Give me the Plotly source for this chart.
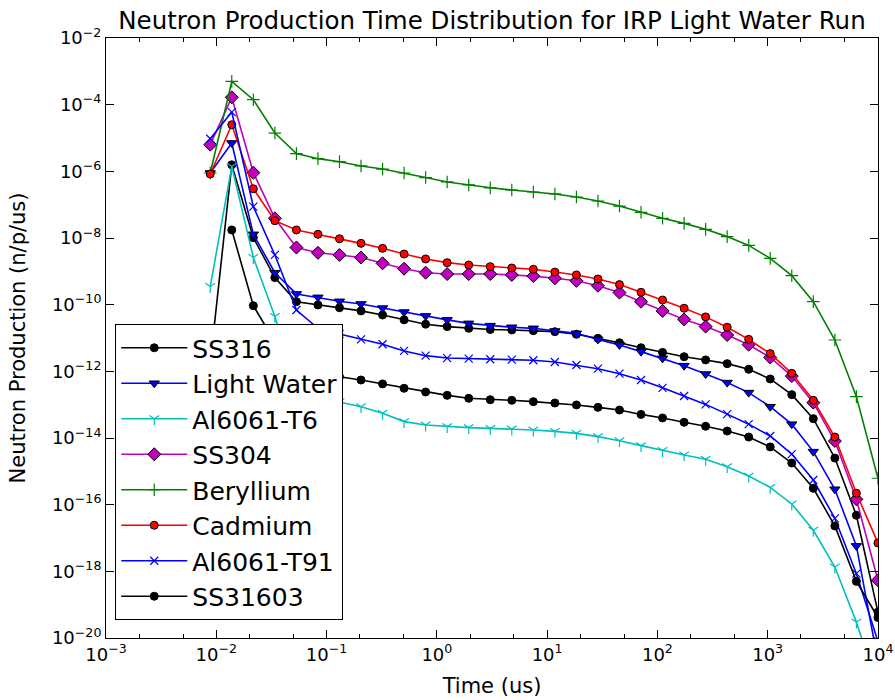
import plotly.graph_objects as go

time_us = [0.00882, 0.01382, 0.02168, 0.03399, 0.05329, 0.08356, 0.1310, 0.2054, 0.3221, 0.5049,
           0.7915, 1.241, 1.946, 3.051, 4.783, 7.499, 11.76, 18.44, 28.91, 45.32,
           71.05, 111.4, 174.7, 273.8, 429.3, 673.0, 1055, 1654, 2594, 4067, 6376, 10000]

ss316 = [1.8e-12, 1.57e-6, 1.02e-8, 6.5e-10, 1.23e-10, 9.8e-11, 8.1e-11, 6.5e-11, 4.9e-11, 3.5e-11,
         2.6e-11, 2.2e-11, 1.95e-11, 1.8e-11, 1.74e-11, 1.66e-11, 1.55e-11, 1.29e-11, 9.8e-12, 7.2e-12,
         5.1e-12, 3.7e-12, 2.75e-12, 2.2e-12, 1.7e-12, 1.15e-12, 5.9e-13, 2.0e-13, 3.8e-14, 2.5e-15,
         4.8e-17, 6.0e-20]
light_water = [8.9e-7, 7.1e-6, 1.29e-8, 9.1e-10, 2.1e-10, 1.66e-10, 1.26e-10, 1.05e-10, 7.9e-11, 6.0e-11,
               4.6e-11, 3.5e-11, 2.75e-11, 2.35e-11, 2.1e-11, 1.95e-11, 1.62e-11, 1.38e-11, 9.1e-12, 6.2e-12,
               3.9e-12, 2.45e-12, 1.48e-12, 8.3e-13, 4.6e-13, 2.3e-13, 8.7e-14, 2.6e-14, 3.9e-15, 2.9e-16,
               5.8e-18, 2.0e-21]
al6061_t6 = [3.5e-10, 1.41e-6, 2.6e-9, 4.4e-11, 4.0e-13, 1.78e-13, 1.2e-13, 8.7e-14, 5.5e-14, 3.1e-14,
             2.45e-14, 2.2e-14, 2.05e-14, 1.95e-14, 1.86e-14, 1.74e-14, 1.58e-14, 1.38e-14, 1.1e-14, 8.3e-15,
             5.9e-15, 4.2e-15, 3.1e-15, 2.3e-15, 1.38e-15, 7.2e-16, 3.3e-16, 1.05e-16, 1.7e-17, 1.35e-18,
             3.0e-20, 3.2e-22]
ss304 = [6.3e-6, 1.66e-4, 9.1e-7, 3.9e-8, 5.2e-9, 3.6e-9, 3.1e-9, 2.6e-9, 1.74e-9, 1.2e-9,
         9.1e-10, 8.3e-10, 8.3e-10, 8.3e-10, 7.8e-10, 7.2e-10, 6.2e-10, 5.2e-10, 3.7e-10, 2.3e-10,
         1.23e-10, 6.5e-11, 3.6e-11, 2.2e-11, 1.23e-11, 6.3e-12, 2.6e-12, 7.2e-13, 1.15e-13, 8.1e-15,
         1.45e-16, 5.4e-19]
beryllium = [8.9e-7, 5.0e-4, 1.41e-4, 1.41e-5, 3.4e-6, 2.4e-6, 1.95e-6, 1.45e-6, 1.17e-6, 8.9e-7,
             6.5e-7, 4.8e-7, 3.9e-7, 3.2e-7, 2.75e-7, 2.4e-7, 2.1e-7, 1.7e-7, 1.29e-7, 9.1e-8,
             5.9e-8, 3.9e-8, 2.75e-8, 1.82e-8, 1.1e-8, 6.0e-9, 2.45e-9, 7.4e-10, 1.23e-10, 8.7e-12,
             1.74e-13, 6.2e-16]
cadmium = [8.3e-7, 2.5e-5, 3.0e-7, 3.3e-8, 1.74e-8, 1.29e-8, 9.5e-9, 6.9e-9, 4.9e-9, 3.3e-9,
           2.35e-9, 1.82e-9, 1.55e-9, 1.38e-9, 1.26e-9, 1.15e-9, 9.5e-10, 7.8e-10, 5.9e-10, 4.0e-10,
           2.35e-10, 1.38e-10, 7.8e-11, 4.3e-11, 2.1e-11, 9.1e-12, 3.4e-12, 8.7e-13, 1.35e-13, 1.07e-14,
           2.2e-16, 7.1e-18]
al6061_t91 = [9.5e-6, 6.0e-5, 8.7e-8, 3.1e-9, 6.9e-11, 1.95e-11, 1.32e-11, 9.1e-12, 6.5e-12, 4.1e-12,
              2.95e-12, 2.5e-12, 2.4e-12, 2.3e-12, 2.25e-12, 2.15e-12, 1.9e-12, 1.55e-12, 1.2e-12, 8.5e-13,
              5.5e-13, 3.2e-13, 1.82e-13, 1.02e-13, 5.2e-14, 2.6e-14, 1.15e-14, 3.3e-15, 5.5e-16, 3.9e-17,
              8.5e-19, 7.9e-21]
ss31603 = [None, 1.74e-8, 9.3e-11, 7.6e-12, 2.0e-12, 1.0e-12, 6.9e-13, 5.5e-13, 4.2e-13, 3.1e-13,
           2.4e-13, 1.9e-13, 1.55e-13, 1.41e-13, 1.35e-13, 1.23e-13, 1.12e-13, 9.8e-14, 8.3e-14, 6.9e-14,
           5.1e-14, 4.0e-14, 2.95e-14, 2.25e-14, 1.62e-14, 1.07e-14, 5.4e-15, 1.78e-15, 3.1e-16, 2.3e-17,
           5.0e-19, 4.1e-20]

x_tick_vals = [1e-3, 1e-2, 1e-1, 1e0, 1e1, 1e2, 1e3, 1e4]
x_tick_text = ["10<sup>−3</sup>", "10<sup>−2</sup>", "10<sup>−1</sup>", "10<sup>0</sup>",
               "10<sup>1</sup>", "10<sup>2</sup>", "10<sup>3</sup>", "10<sup>4</sup>"]
y_tick_vals = [1e-20, 1e-18, 1e-16, 1e-14, 1e-12, 1e-10, 1e-8, 1e-6, 1e-4, 1e-2]
y_tick_text = ["10<sup>−20</sup>", "10<sup>−18</sup>", "10<sup>−16</sup>", "10<sup>−14</sup>",
               "10<sup>−12</sup>", "10<sup>−10</sup>", "10<sup>−8</sup>", "10<sup>−6</sup>",
               "10<sup>−4</sup>", "10<sup>−2</sup>"]

series = [
    ("SS316", ss316, "#000000", "circle", 8, False),
    ("Light Water", light_water, "#0000ff", "triangle-down", 9, False),
    ("Al6061-T6", al6061_t6, "#00bfbf", "y-down", 8, True),
    ("SS304", ss304, "#bf00bf", "diamond", 10, False),
    ("Beryllium", beryllium, "#008000", "cross-thin", 9, True),
    ("Cadmium", cadmium, "#ff0000", "circle", 8, False),
    ("Al6061-T91", al6061_t91, "#0000ff", "x-thin", 8, True),
    ("SS31603", ss31603, "#000000", "circle", 8, False),
]

fig = go.Figure()
for name, vals, color, sym, size, lineonly in series:
    if lineonly:
        marker = dict(symbol=sym, size=size, color=color, line=dict(color=color, width=1.2))
    else:
        marker = dict(symbol=sym, size=size, color=color, line=dict(color="#000000", width=1))
    fig.add_trace(go.Scatter(x=time_us, y=vals, name=name, mode="lines+markers",
                             line=dict(color=color, width=1.6), marker=marker,
                             legendgroup=name, connectgaps=False))

fig.update_layout(
    width=895, height=700,
    margin=dict(l=106, r=17, t=38, b=62),
    paper_bgcolor="white", plot_bgcolor="white",
    font=dict(family="DejaVu Sans", color="black"),
    title=dict(text="Neutron Production Time Distribution for IRP Light Water Run",
               xref="paper", x=0.5, xanchor="center",
               yref="container", y=0.971, yanchor="middle", font=dict(size=24.5)),
    showlegend=True,
    legend=dict(x=0.012, y=0.03, xanchor="left", yanchor="bottom",
                bgcolor="white", bordercolor="black", borderwidth=1,
                font=dict(size=25), itemwidth=66, tracegroupgap=0),
)
fig.update_xaxes(type="log", range=[-3, 4.0005], tickvals=x_tick_vals, ticktext=x_tick_text,
                 automargin=False,
                 showline=True, linecolor="black", linewidth=1, mirror="ticks",
                 ticks="inside", ticklen=8, tickcolor="black", showgrid=False, zeroline=False,
                 tickfont=dict(size=18),
                 minor=dict(ticks="inside", ticklen=4, tickcolor="black", showgrid=False),
                 title=dict(text="Time (us)", font=dict(size=21), standoff=14))
fig.update_yaxes(type="log", range=[-20, -2], tickvals=y_tick_vals, ticktext=y_tick_text,
                 automargin=False,
                 showline=True, linecolor="black", linewidth=1, mirror="ticks",
                 ticks="inside", ticklen=8, tickcolor="black", showgrid=False, zeroline=False,
                 tickfont=dict(size=18),
                 title=dict(text="Neutron Production (n/p/us)", font=dict(size=21), standoff=20))

fig.write_html("out.html")
